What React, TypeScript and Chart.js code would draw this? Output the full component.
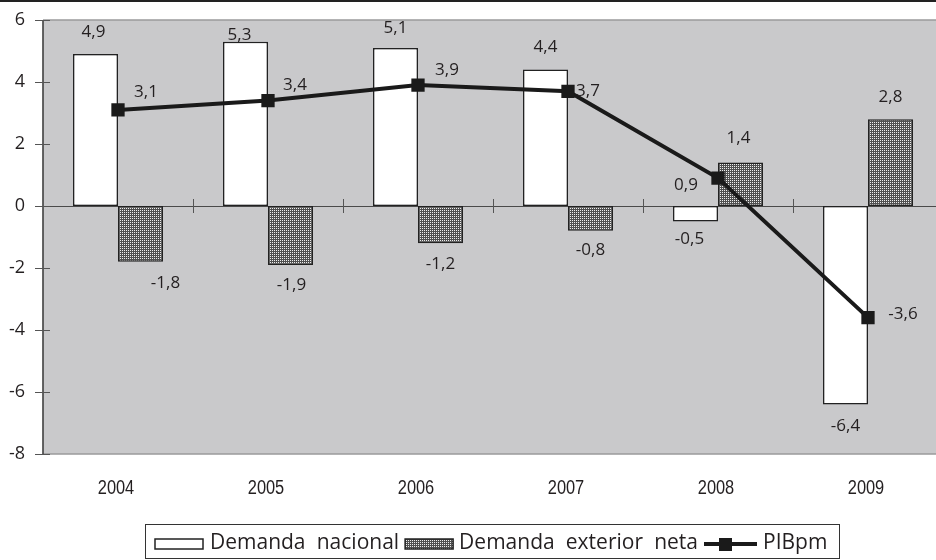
import React, { useEffect, useRef } from "react";
import { Chart, registerables } from "chart.js";

Chart.register(...registerables);

// ---------- data ----------
const years = ["2004", "2005", "2006", "2007", "2008", "2009"];
const demandaNacional = [4.9, 5.3, 5.1, 4.4, -0.5, -6.4];
const demandaExterior = [-1.8, -1.9, -1.2, -0.8, 1.4, 2.8];
const pibpm = [3.1, 3.4, 3.9, 3.7, 0.9, -3.6];
const yTicks = [6, 4, 2, 0, -2, -4, -6, -8];
const seriesNames = ["Demanda nacional", "Demanda exterior neta", "PIBpm"];

// ---------- label nudges (style, px) ----------
const nacionalNudge = [[-2, -22], [-6, -7], [0, -20], [0, -22], [-6, 18], [0, 22]];
const exteriorNudge = [[25, 21], [1, 20], [0, 21], [0, 19], [-2, -24], [0, -22]];
const pibNudge = [[28, -18], [27, -15], [29, -15], [20, 0], [-32, 7], [35, -3]];

const FONT = '"Open Sans", "DejaVu Sans", sans-serif';
const TEXT = "#231f20";

const fmt = (v: number) => String(v).replace(".", ",");

export default function App() {
  const ref = useRef<HTMLCanvasElement>(null);

  useEffect(() => {
    const canvas = ref.current!;
    const ctx = canvas.getContext("2d")!;
    const tile = document.createElement("canvas");
    tile.width = 2;
    tile.height = 2;
    const t = tile.getContext("2d")!;
    t.fillStyle = "#505050";
    t.fillRect(0, 0, 2, 2);
    t.fillStyle = "#eeeeee";
    t.fillRect(0, 0, 1, 1);
    const hatch = ctx.createPattern(tile, "repeat")!;

    const decor = {
      id: "decor",
      beforeDatasetsDraw(chart: any) {
        const c = chart.ctx;
        const a = chart.chartArea;
        const ys = chart.scales.y;
        const xs = chart.scales.x;
        c.save();
        c.fillStyle = "#c9c9cb";
        c.fillRect(a.left, a.top, a.right - a.left + 20, a.bottom - a.top);
        // top/bottom frame
        c.strokeStyle = "#9a9a9c";
        c.lineWidth = 1.5;
        c.beginPath();
        c.moveTo(a.left, a.top);
        c.lineTo(a.right + 20, a.top);
        c.moveTo(a.left, a.bottom);
        c.lineTo(a.right + 20, a.bottom);
        c.stroke();
        // zero line
        const y0 = ys.getPixelForValue(0);
        c.strokeStyle = "#4a4a4a";
        c.lineWidth = 1;
        c.beginPath();
        c.moveTo(a.left, Math.round(y0) + 0.5);
        c.lineTo(a.right + 20, Math.round(y0) + 0.5);
        c.stroke();
        // category boundary ticks
        c.strokeStyle = "#555";
        c.beginPath();
        for (let i = 1; i < years.length; i++) {
          const x = (xs.getPixelForValue(i - 1) + xs.getPixelForValue(i)) / 2;
          c.moveTo(Math.round(x) + 0.5, y0 - 7);
          c.lineTo(Math.round(x) + 0.5, y0 + 7);
        }
        c.stroke();
        // y axis line
        c.strokeStyle = "#4a4a4a";
        c.lineWidth = 1.7;
        c.beginPath();
        c.moveTo(a.left, a.top);
        c.lineTo(a.left, a.bottom);
        c.stroke();
        // y ticks
        c.lineWidth = 1;
        c.strokeStyle = "#555";
        c.beginPath();
        for (const v of yTicks) {
          const y = Math.round(ys.getPixelForValue(v)) + 0.5;
          c.moveTo(a.left - 8, y);
          c.lineTo(a.left + 7, y);
        }
        c.stroke();
        // x category labels (condensed)
        c.fillStyle = TEXT;
        c.font = `20px "Liberation Sans", Arial, sans-serif`;
        c.textAlign = "center";
        c.textBaseline = "middle";
        years.forEach((yr, i) => {
          const x = xs.getPixelForValue(i) - 2;
          c.save();
          c.translate(x, a.bottom + 34);
          c.scale(0.82, 1);
          c.fillText(yr, 0, 0);
          c.restore();
        });
        c.restore();
      },
      afterDatasetsDraw(chart: any) {
        const c = chart.ctx;
        c.save();
        c.font = `17px ${FONT}`;
        c.fillStyle = TEXT;
        c.textAlign = "center";
        c.textBaseline = "middle";
        const put = (dsIndex: number, values: number[], nudge: number[][]) => {
          const meta = chart.getDatasetMeta(dsIndex);
          meta.data.forEach((el: any, i: number) => {
            c.fillText(fmt(values[i]), el.x + nudge[i][0], el.y + nudge[i][1]);
          });
        };
        put(1, demandaNacional, nacionalNudge);
        put(2, demandaExterior, exteriorNudge);
        put(0, pibpm, pibNudge);
        c.restore();
      },
      afterDraw(chart: any) {
        const c = chart.ctx;
        c.save();
        c.fillStyle = "#222";
        c.fillRect(0, 0, chart.width, 2);
        // legend
        const top = 524, bottom = 558, left = 145, right = 839;
        const cy = 543;
        c.fillStyle = "#fff";
        c.fillRect(left, top, right - left, bottom - top);
        c.strokeStyle = "#333";
        c.lineWidth = 1;
        c.strokeRect(left + 0.5, top + 0.5, right - left, bottom - top);
        c.font = `21px ${FONT}`;
        c.textBaseline = "middle";
        c.textAlign = "left";
        const w1 = c.measureText(seriesNames[0]).width;
        const w2 = c.measureText(seriesNames[1]).width;
        const natural = 210 + w1 + 6 + 48 + 6 + w2 + 6 + 53 + 6;
        const ws = Math.max(0, (763 - natural) / 3);
        (c as any).wordSpacing = `${ws}px`;
        let x = 155;
        c.fillStyle = "#fff";
        c.fillRect(x, cy - 4, 48, 10);
        c.strokeStyle = "#222";
        c.lineWidth = 1.5;
        c.strokeRect(x, cy - 4, 48, 10);
        x = 210;
        c.fillStyle = TEXT;
        c.fillText(seriesNames[0], x, cy);
        x += w1 + ws + 6;
        c.fillStyle = hatch;
        c.fillRect(x, cy - 4, 48, 10);
        c.strokeRect(x, cy - 4, 48, 10);
        x += 54;
        c.fillStyle = TEXT;
        c.fillText(seriesNames[1], x, cy);
        x += w2 + 2 * ws + 6;
        c.strokeStyle = "#1a1a1a";
        c.lineWidth = 4;
        c.beginPath();
        c.moveTo(x, cy + 1);
        c.lineTo(x + 53, cy + 1);
        c.stroke();
        c.fillStyle = "#1a1a1a";
        c.fillRect(x + 15, cy - 5, 13, 13);
        x += 59;
        (c as any).wordSpacing = "0px";
        c.fillStyle = TEXT;
        c.fillText(seriesNames[2], x, cy);
        c.restore();
      },
    };

    const chart = new Chart(canvas, {
      type: "bar",
      data: {
        labels: years,
        datasets: [
          {
            type: "line",
            label: seriesNames[2],
            data: pibpm,
            borderColor: "#1a1a1a",
            borderWidth: 4,
            pointStyle: "rect",
            pointRadius: 9.4,
            pointBackgroundColor: "#1a1a1a",
            pointBorderWidth: 0,
            tension: 0,
            order: 0,
          } as any,
          {
            type: "bar",
            label: seriesNames[0],
            data: demandaNacional,
            backgroundColor: "#ffffff",
            borderColor: "#222",
            borderWidth: 1.5,
            borderSkipped: false,
            categoryPercentage: 0.6,
            barPercentage: 1,
            order: 1,
          },
          {
            type: "bar",
            label: seriesNames[1],
            data: demandaExterior,
            backgroundColor: hatch as any,
            borderColor: "#222",
            borderWidth: 1.5,
            borderSkipped: false,
            categoryPercentage: 0.6,
            barPercentage: 1,
            order: 1,
          },
        ],
      },
      options: {
        animation: false,
        responsive: false,
        devicePixelRatio: 1,
        layout: { autoPadding: false, padding: { left: 0, right: 7, top: 20, bottom: 0 } },
        plugins: { legend: { display: false }, tooltip: { enabled: false } },
        scales: {
          x: {
            grid: { display: false, drawTicks: false },
            border: { display: false },
            ticks: { display: false },
            afterFit: (s: any) => {
              s.height = 106;
              s.paddingLeft = 0;
              s.paddingRight = 0;
            },
          },
          y: {
            min: -8,
            max: 6,
            afterBuildTicks: (s: any) => {
              s.ticks = yTicks.map((v) => ({ value: v }));
            },
            ticks: {
              padding: 18,
              color: TEXT,
              font: { family: FONT, size: 18 },
              callback: (v: any) => String(v),
            },
            grid: { display: false, drawTicks: false },
            border: { display: false },
            afterFit: (s: any) => {
              s.width = 43;
              s.paddingTop = 0;
              s.paddingBottom = 0;
            },
          },
        },
      },
      plugins: [decor],
    });
    return () => chart.destroy();
  }, []);

  return (
    <div
      style={{
        position: "fixed",
        left: 0,
        top: 0,
        width: 936,
        height: 560,
        overflow: "hidden",
        background: "#fff",
      }}
    >
      <canvas ref={ref} width={950} height={560} style={{ width: 950, height: 560, display: "block" }} />
    </div>
  );
}
